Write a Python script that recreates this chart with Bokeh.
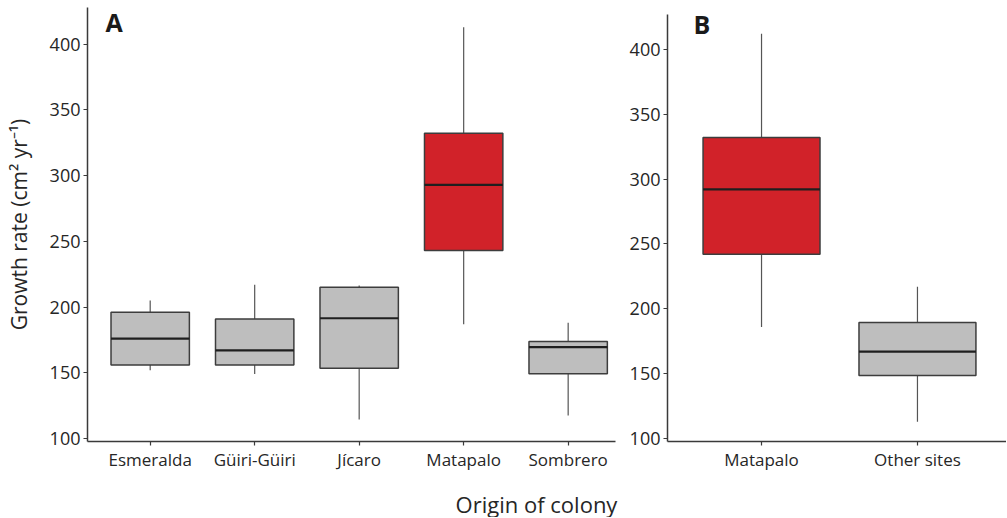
from bokeh.plotting import figure
from bokeh.models import FixedTicker, Label, ColumnDataSource
from bokeh.layouts import row, column
from bokeh.embed import file_html
from bokeh.resources import INLINE

# ---- data ----
cats_a = ["Esmeralda", "Güiri-Güiri", "Jícaro", "Matapalo", "Sombrero"]
lower_a = [152, 149, 114.5, 187, 117.5]
q1_a = [156, 156, 153.5, 243, 149.2]
med_a = [176, 167, 191.5, 293, 169.5]
q3_a = [196, 191, 215, 332.3, 173.8]
upper_a = [205, 217, 216.5, 413, 188]

cats_b = ["Matapalo", "Other sites"]
lower_b = [186, 113]
q1_b = [242, 148.5]
med_b = [292, 167]
q3_b = [332, 189.5]
upper_b = [412, 217]

highlight = "Matapalo"
y_ticks = [100, 150, 200, 250, 300, 350, 400]

FONT = "Open Sans"
TXT = "#262626"
AX = "#3a3a3a"
RED = "#d12229"
GREY = "#bebebe"


def panel(cats, lower, q1, med, q3, upper, width, height, bl, br, bt, bb,
          x_range, y_range, y_bounds, letter, letter_xy):
    p = figure(width=width, height=height, x_range=x_range, y_range=y_range,
               output_backend="svg", toolbar_location=None,
               min_border_left=bl, min_border_right=br, min_border_top=bt,
               min_border_bottom=bb)
    p.outline_line_color = None
    p.grid.visible = False
    p.background_fill_color = "white"
    p.border_fill_color = "white"

    xs = list(range(len(cats)))
    bw = 0.75
    src = ColumnDataSource(dict(
        x=xs, lower=lower, q1=q1, med=med, q3=q3, upper=upper,
        x0=[x - bw / 2 for x in xs], x1=[x + bw / 2 for x in xs],
        fill=[RED if c == highlight else GREY for c in cats]))

    p.segment(x0="x", x1="x", y0="q3", y1="upper", source=src,
              line_color="#555555", line_width=1.2)
    p.segment(x0="x", x1="x", y0="lower", y1="q1", source=src,
              line_color="#555555", line_width=1.2)
    p.vbar(x="x", width=bw, bottom="q1", top="q3", source=src,
           fill_color="fill", line_color="#3d3d3d", line_width=1.5)
    p.segment(x0="x0", x1="x1", y0="med", y1="med", source=src,
              line_color="#1f1f1f", line_width=2.2)

    for ax in (p.xaxis[0], p.yaxis[0]):
        ax.axis_line_color = AX
        ax.axis_line_width = 1.5
        ax.major_tick_line_color = AX
        ax.major_tick_line_width = 1.2
        ax.major_tick_out = 4
        ax.major_tick_in = 0
        ax.minor_tick_out = 0
        ax.minor_tick_in = 0
        ax.major_label_text_font = FONT
        ax.major_label_text_color = TXT

    p.yaxis[0].ticker = FixedTicker(ticks=y_ticks)
    p.yaxis[0].bounds = y_bounds
    p.yaxis[0].major_label_text_font_size = "18px"
    p.yaxis[0].major_label_standoff = 3

    p.xaxis[0].ticker = FixedTicker(ticks=xs)
    p.xaxis[0].major_label_overrides = {i: c for i, c in enumerate(cats)}
    p.xaxis[0].major_label_text_font_size = "17px"
    p.xaxis[0].major_label_standoff = 2

    p.add_layout(Label(x=letter_xy[0], y=letter_xy[1], text=letter,
                       text_font=FONT, text_font_style="bold",
                       text_font_size="25px", text_color="#1a1a1a",
                       text_baseline="alphabetic", text_align="left"))
    return p


ROW_H = 478
pa = panel(cats_a, lower_a, q1_a, med_a, q3_a, upper_a,
           width=622, height=ROW_H, bl=87, br=7, bt=7, bb=37,
           x_range=(-0.6, 4.453), y_range=(97.7, 428.0),
           y_bounds=(97.7, 428.0),
           letter="A", letter_xy=(-0.428, 416.6))
pa.yaxis[0].axis_label = "Growth rate (cm² yr⁻¹)"
pa.yaxis[0].axis_label_text_font = FONT
pa.yaxis[0].axis_label_text_font_style = "normal"
pa.yaxis[0].axis_label_text_font_size = "21px"
pa.yaxis[0].axis_label_text_line_height = 1.0
pa.yaxis[0].axis_label_text_color = TXT
pa.yaxis[0].axis_label_standoff = 14

pb = panel(cats_b, lower_b, q1_b, med_b, q3_b, upper_b,
           width=384, height=ROW_H, bl=45, br=0, bt=7, bb=37,
           x_range=(-0.603, 1.571), y_range=(97.69, 432.3),
           y_bounds=(97.69, 426.9),
           letter="B", letter_xy=(-0.436, 419.5))

# shared x-axis title strip under both panels
STRIP_H = 39
pc = figure(width=1006, height=STRIP_H, x_range=(0, 1006),
            y_range=(0, STRIP_H), output_backend="svg",
            toolbar_location=None, min_border=0)
pc.axis.visible = False
pc.grid.visible = False
pc.outline_line_color = None
pc.add_layout(Label(x=536, y=14, text="Origin of colony", text_font=FONT,
                    text_font_size="22px", text_color=TXT,
                    text_align="center", text_baseline="alphabetic"))

layout = column(row(pa, pb), pc)
open("out.html", "w").write(file_html(layout, INLINE))
